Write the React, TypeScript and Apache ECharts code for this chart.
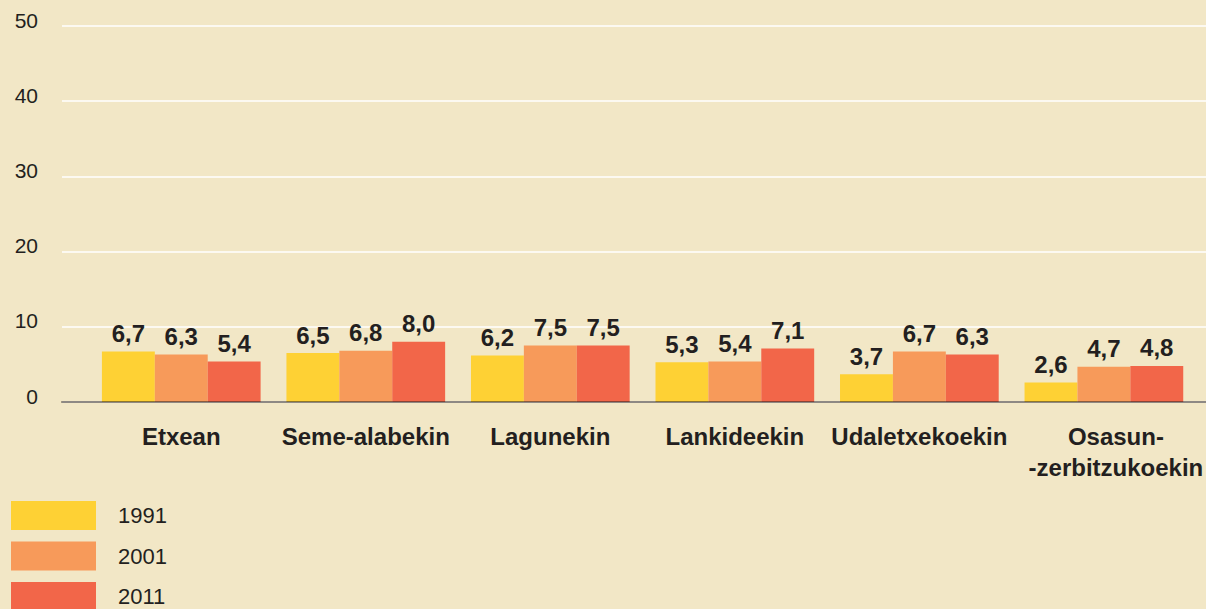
import React, { useEffect, useRef } from "react";
import * as echarts from "echarts";

const categories = ["Etxean", "Seme-alabekin", "Lagunekin", "Lankideekin", "Udaletxekoekin", "Osasun-\n-zerbitzukoekin"];
const years = ["1991", "2001", "2011"];
const values1991 = [6.7, 6.5, 6.2, 5.3, 3.7, 2.6];
const values2001 = [6.3, 6.8, 7.5, 5.4, 6.7, 4.7];
const values2011 = [5.4, 8.0, 7.5, 7.1, 6.3, 4.8];
const colors = ["#fed134", "#f79a5a", "#f26649"];

const FONT = "'Liberation Sans', Arial, Helvetica, sans-serif";

export default function App() {
  const ref = useRef<HTMLDivElement>(null);
  useEffect(() => {
    document.body.style.margin = "0";
    const chart = echarts.init(ref.current!, null, { renderer: "svg" });
    const seriesData = [values1991, values2001, values2011];
    chart.setOption({
      animation: false,
      backgroundColor: "#f2e7c6",
      textStyle: { fontFamily: FONT },
      grid: [
        { left: 62, right: 0, top: 26, bottom: 207 },
        { left: 89, right: 7, top: 26, bottom: 207 },
      ],
      legend: {
        orient: "vertical",
        left: 11,
        top: 501,
        height: 200,
        padding: 0,
        itemWidth: 85,
        itemHeight: 29,
        itemGap: 11.5,
        icon: "rect",
        data: years,
        textStyle: { fontSize: 22, color: "#231f20", fontFamily: FONT, padding: [0, 0, 0, 17] },
      },
      xAxis: [
        {
          gridIndex: 0,
          type: "category",
          data: categories,
          z: 10,
          axisLine: { show: true, lineStyle: { color: "rgba(40,35,33,0.52)", width: 2 } },
          axisTick: { show: false },
          axisLabel: { show: false },
          splitLine: { show: false },
        },
        {
          gridIndex: 1,
          type: "category",
          data: categories,
          axisLine: { show: false },
          axisTick: { show: false },
          axisLabel: {
            interval: 0,
            hideOverlap: false,
            margin: 19,
            fontSize: 24,
            fontWeight: "bold",
            color: "#231f20",
            lineHeight: 31,
            fontFamily: FONT,
            formatter: (v: string) =>
              v.indexOf("\n") >= 0 ? v.split("\n").map((s) => `{o|${s}}`).join("\n") : v,
            rich: {
              o: { fontSize: 24, fontWeight: "bold", color: "#231f20", lineHeight: 31, padding: [0, 0, 0, 24], fontFamily: FONT },
            },
          },
        },
      ],
      yAxis: [
        {
          gridIndex: 0,
          type: "value",
          min: 0,
          max: 50,
          interval: 10,
          axisLine: { show: false },
          axisTick: { show: false },
          axisLabel: {
            margin: 24,
            fontSize: 21,
            color: "#231f20",
            fontFamily: FONT,
            verticalAlign: "bottom",
            lineHeight: 12,
          },
          splitLine: { show: true, lineStyle: { color: "#ffffff", width: 1.5 } },
        },
        {
          gridIndex: 1,
          type: "value",
          min: 0,
          max: 50,
          interval: 10,
          show: false,
          splitLine: { show: false },
        },
      ],
      series: years.map((y, i) => ({
        name: y,
        type: "bar",
        xAxisIndex: 1,
        yAxisIndex: 1,
        data: seriesData[i],
        barGap: "0%",
        barCategoryGap: "14%",
        itemStyle: { color: colors[i] },
        label: {
          show: true,
          position: "top",
          distance: 6,
          fontSize: 24,
          fontWeight: "bold",
          color: "#231f20",
          fontFamily: FONT,
          formatter: (p: any) => p.value.toFixed(1).replace(".", ","),
        },
      })),
    });
    return () => chart.dispose();
  }, []);
  return <div ref={ref} style={{ width: 1206, height: 609 }} />;
}
